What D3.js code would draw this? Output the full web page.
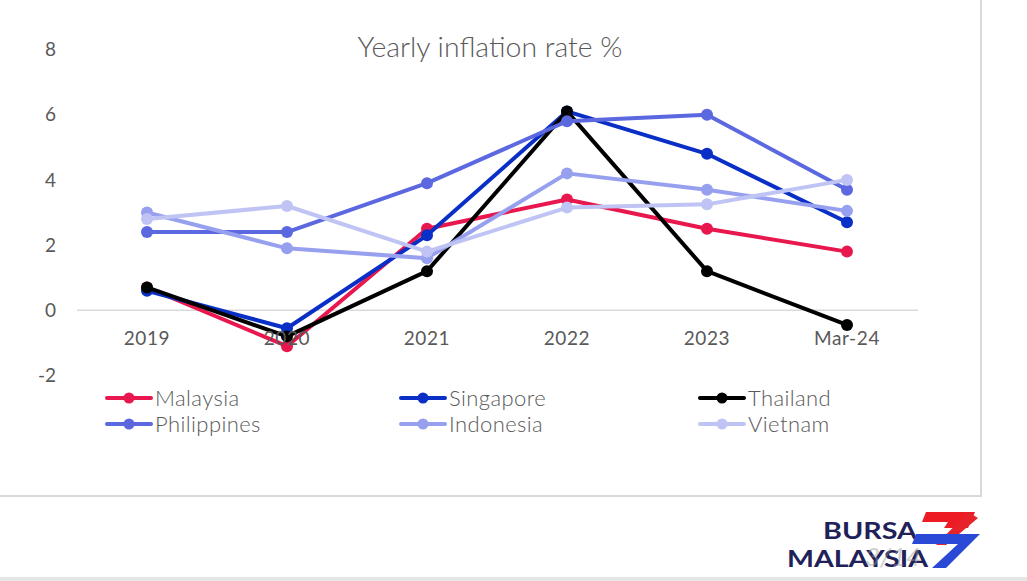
<!DOCTYPE html>
<html>
<head>
<meta charset="utf-8">
<script src="https://cdn.jsdelivr.net/npm/d3@7"></script>
<style>
  body { margin: 0; background: #fff; }
  svg { display: block; font-family: Lato, "Open Sans", sans-serif; }
</style>
</head>
<body>
<svg id="chart" width="1027" height="581"></svg>
<script>
// categories and series
var periods = ["2019", "2020", "2021", "2022", "2023", "Mar-24"];
var yTicks = [-2, 0, 2, 4, 6, 8];
var countries = ["Malaysia", "Singapore", "Thailand", "Philippines", "Indonesia", "Vietnam"];
var malaysia    = [0.7, -1.1, 2.5, 3.4, 2.5, 1.8];
var singapore   = [0.6, -0.55, 2.3, 6.1, 4.8, 2.7];
var thailand    = [0.7, -0.8, 1.2, 6.1, 1.2, -0.45];
var philippines = [2.4, 2.4, 3.9, 5.8, 6.0, 3.7];
var indonesia   = [3.0, 1.9, 1.6, 4.2, 3.7, 3.05];
var vietnam     = [2.8, 3.2, 1.8, 3.15, 3.25, 4.0];
var colors = ["#e8174d", "#0a2fc6", "#000000", "#5c68e0", "#97a0ee", "#bfc4f4"];

var seriesList = [malaysia, singapore, thailand, philippines, indonesia, vietnam].map(function (vals, i) {
  return { name: countries[i], color: colors[i], values: vals };
});

var svg = d3.select("#chart");

// card border + bottom band
svg.append("rect").attr("x", -5).attr("y", -5).attr("width", 986).attr("height", 501)
  .attr("fill", "#fff").attr("stroke", "#d9d9d9").attr("stroke-width", 2);
svg.append("rect").attr("x", 0).attr("y", 577).attr("width", 1027).attr("height", 4).attr("fill", "#e6e6e6");

var x = d3.scalePoint().domain(periods).range([147, 847]);
var y = d3.scaleLinear().domain([-2, 8]).range([375.5, 49.5]);

// zero line
svg.append("line").attr("x1", 77).attr("x2", 918)
  .attr("y1", y(0)).attr("y2", y(0))
  .attr("stroke", "#d9d9d9").attr("stroke-width", 1.5);

// y labels
svg.append("g").selectAll("text").data(yTicks).enter().append("text")
  .attr("x", 56).attr("y", function (d) { return y(d); })
  .attr("dy", "0.35em").attr("text-anchor", "end")
  .attr("fill", "#595959").style("font-size", "19px")
  .text(function (d) { return d; });

// title
svg.append("text").attr("x", 490).attr("y", 57).attr("text-anchor", "middle")
  .attr("fill", "#595959").style("font-size", "27px").style("font-weight", 300)
  .attr("textLength", 265).attr("lengthAdjust", "spacingAndGlyphs")
  .text("Yearly inflation rate %");

var line = d3.line()
  .x(function (d, i) { return x(periods[i]); })
  .y(function (d) { return y(d); });

var g = svg.append("g").selectAll("g").data(seriesList).enter().append("g");
g.append("path")
  .attr("d", function (s) { return line(s.values); })
  .attr("fill", "none").attr("stroke", function (s) { return s.color; })
  .attr("stroke-width", 4).attr("stroke-linejoin", "round");
g.selectAll("circle").data(function (s) { return s.values.map(function (v, i) { return { v: v, i: i, c: s.color }; }); })
  .enter().append("circle")
  .attr("cx", function (d) { return x(periods[d.i]); })
  .attr("cy", function (d) { return y(d.v); })
  .attr("r", 6).attr("fill", function (d) { return d.c; });

// x labels
svg.append("g").selectAll("text").data(periods).enter().append("text")
  .attr("x", function (d) { return x(d); }).attr("y", 345)
  .attr("text-anchor", "middle").attr("fill", "#595959").style("font-size", "19px")
  .style("letter-spacing", "0.6px")
  .text(function (d) { return d; });

// legend
var legX = [107, 401, 700], legY = [398, 424];
var leg = svg.append("g").selectAll("g").data(seriesList).enter().append("g")
  .attr("transform", function (s, i) { return "translate(" + legX[i % 3] + "," + legY[Math.floor(i / 3)] + ")"; });
leg.append("line").attr("x1", 0).attr("x2", 44).attr("y1", 0).attr("y2", 0)
  .attr("stroke", function (s) { return s.color; }).attr("stroke-width", 4).attr("stroke-linecap", "round");
leg.append("circle").attr("cx", 22).attr("cy", 0).attr("r", 5.5).attr("fill", function (s) { return s.color; });
leg.append("text").attr("x", 48).attr("y", 0).attr("dy", "0.35em")
  .attr("fill", "#595959").style("font-size", "22px").style("font-weight", 300)
  .style("letter-spacing", "0.4px")
  .text(function (s) { return s.name; });

// logo
var logo = svg.append("g");
logo.append("text").attr("x", 823).attr("y", 539)
  .attr("fill", "#1f2258").style("font-size", "23px").style("font-weight", 700)
  .attr("textLength", 94).attr("lengthAdjust", "spacingAndGlyphs")
  .text("BURSA");
logo.append("text").attr("x", 787).attr("y", 567)
  .attr("fill", "#1f2258").style("font-size", "23px").style("font-weight", 700)
  .attr("textLength", 141).attr("lengthAdjust", "spacingAndGlyphs")
  .text("MALAYSIA");
logo.append("polygon").attr("points", "926,512 975,512 968,528 944,528 948,522 922,522")
  .attr("fill", "#ed1c24");
logo.append("polygon").attr("points", "968,512 978,518 946,545 936,545")
  .attr("fill", "#e8222b");
logo.append("polygon").attr("points", "916,534 980,534 946,568 932,568 958,544 912,544")
  .attr("fill", "#2a49d6");
logo.append("text").attr("x", 893).attr("y", 566).attr("text-anchor", "middle")
  .attr("fill", "#9a9a9a").attr("opacity", 0.45).style("font-size", "26px").style("font-style", "italic")
  .text("3/14");
</script>
</body>
</html>
